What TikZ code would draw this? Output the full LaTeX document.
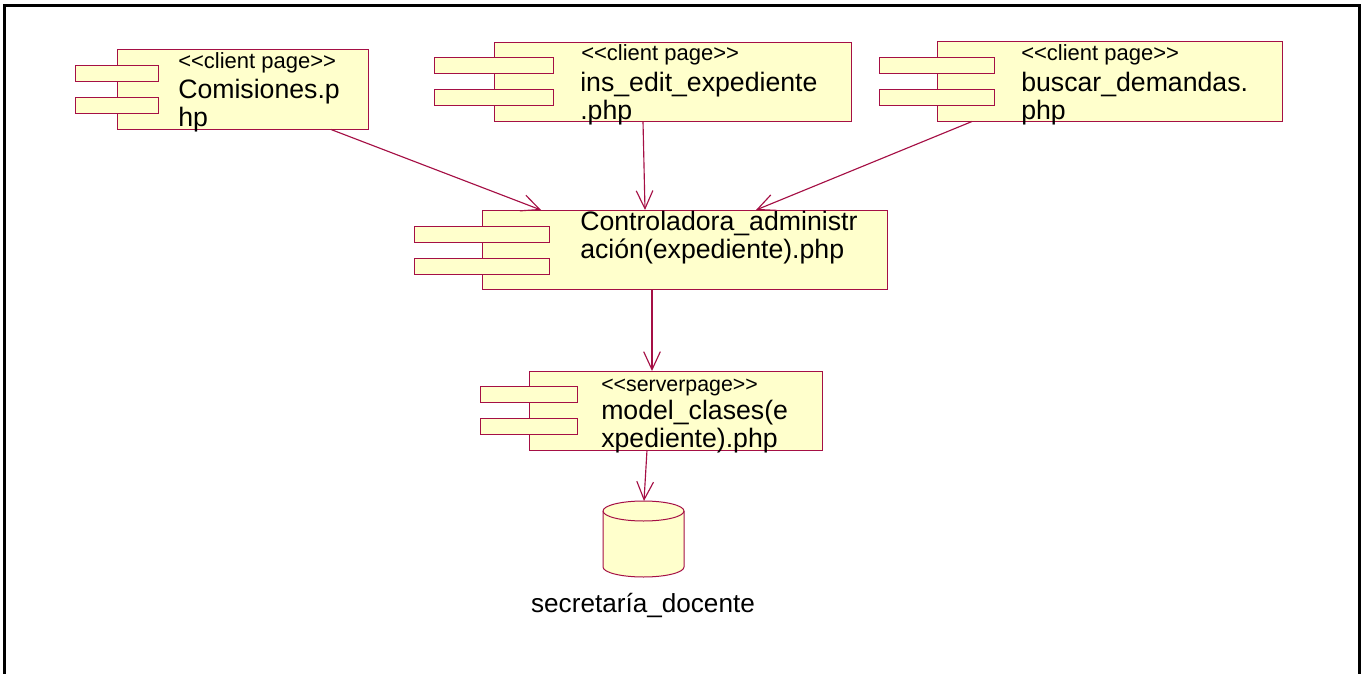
\documentclass[tikz,border=0pt]{standalone}
\usepackage{fontspec}
\setmainfont{Liberation Sans}
\usetikzlibrary{arrows.meta,calc}
\definecolor{umlline}{HTML}{A50F45}
\definecolor{umlfill}{HTML}{FFFFCC}
\newlength{\pxu}\setlength{\pxu}{0.75pt}
\tikzset{
  x=0.75pt,y=-0.75pt,
  umlbox/.style={draw=umlline,fill=umlfill,line width=0.75pt,inner sep=0pt,outer sep=0pt,rectangle},
  dep/.style={draw=umlline,line width=0.85pt,-{Straight Barb[length=13.5pt,width=12.5pt]}},
  stereo/.style={anchor=base west,inner sep=0pt,font=\fontsize{16.5pt}{18pt}\selectfont},
  compname/.style={anchor=north west,inner sep=0pt,align=left,font=\fontsize{20pt}{21pt}\selectfont},
}
\newcommand{\comp}[9]{%
  \node[umlbox,minimum width=(#4-#2)*\pxu,minimum height=(#5-#3)*\pxu] (#1) at ({(#2+#4)/2},{(#3+#5)/2}) {};
  \node[umlbox,minimum width=(#7-#6)*\pxu,minimum height=16*\pxu] (#1p1) at ({(#6+#7)/2},#8+8) {};
  \node[umlbox,minimum width=(#7-#6)*\pxu,minimum height=16*\pxu] (#1p2) at ({(#6+#7)/2},#9+8) {};
}
\begin{document}
\begin{tikzpicture}
\useasboundingbox (0,0) rectangle (1367,674);
\fill[white] (0,0) rectangle (1367,674);
\coordinate (fa) at (4.5,680);
\coordinate (fb) at (4.5,5.5);
\coordinate (fc) at (1359.5,5.5);
\coordinate (fd) at (1359.5,680);
\draw[black,line width=2.6pt] (fa) -- (fb) -- (fc) -- (fd);

\comp{com}{117}{49.5}{368}{129.5}{75}{158}{65.5}{97.5}
\comp{ins}{494}{42.5}{851}{121.5}{434}{553}{57.5}{89.5}
\comp{bus}{937}{41.5}{1282}{121.5}{879}{994}{57.5}{89.5}
\comp{ctl}{482}{210}{887}{289}{414}{549}{226}{258}
\comp{mod}{529}{371}{822}{450}{480}{577}{386}{418}

\node[stereo] (t1) at (178,69) {<{}<client page>{}>};
\node[compname] (n1) at (178,79) {Comisiones.p\\hp};
\node[stereo] (t2) at (581,61) {<{}<client page>{}>};
\node[compname] (n2) at (580,72) {ins\_edit\_expediente\\.php};
\node[stereo] (t3) at (1021,61) {<{}<client page>{}>};
\node[compname] (n3) at (1021,72) {buscar\_demandas.\\php};
\node[compname] (n4) at (580,211) {Controladora\_administr\\ación(expediente).php};
\node[stereo,font=\fontsize{16pt}{18pt}\selectfont] (t5) at (601,391) {<{}<serverpage>{}>};
\node[compname] (n5) at (601,400) {model\_clases(e\\xpediente).php};

\path[draw=umlline,fill=umlfill,line width=0.75pt] (603,511) -- (603,567) arc[start angle=180,end angle=360,x radius=40.5,y radius=-10] -- (684,511) arc[start angle=0,end angle=180,x radius=40.5,y radius=-10] -- cycle;
\draw[umlline,line width=0.75pt] (603,511) arc[start angle=180,end angle=360,x radius=40.5,y radius=-10];
\coordinate (db) at (644,501);
\node[inner sep=0pt,anchor=base,font=\fontsize{19.6pt}{22pt}\selectfont] (dbl) at (643,612) {secretaría\_docente};

\draw[dep] ([xshift=88.5\pxu]com.south) -- ([xshift=-143.5\pxu]ctl.north);
\draw[dep] ([xshift=-29.5\pxu]ins.south) -- ([xshift=-39.5\pxu]ctl.north);
\draw[dep] ([xshift=-137.5\pxu]bus.south) -- ([xshift=71.5\pxu]ctl.north);
\draw[dep] ([xshift=-32.5\pxu]ctl.south) -- ([xshift=-23.5\pxu]mod.north);
\draw[dep] ([xshift=-28.5\pxu]mod.south) -- (db);
\end{tikzpicture}
\end{document}
